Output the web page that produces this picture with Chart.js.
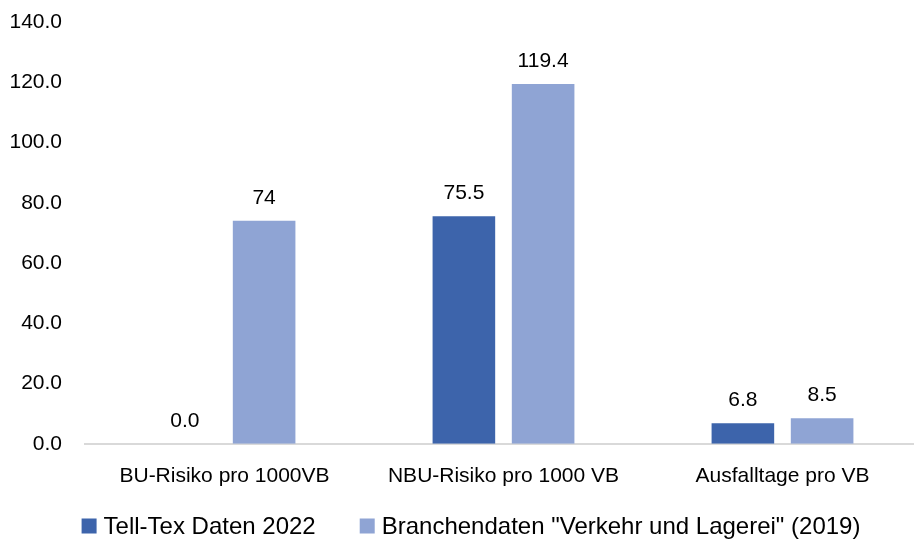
<!DOCTYPE html>
<html>
<head>
<meta charset="utf-8">
<script src="https://cdn.jsdelivr.net/npm/chart.js@4/dist/chart.umd.min.js"></script>
<style>
  html, body { margin: 0; padding: 0; background: #fff; overflow: hidden; }
  #clip { width: 914px; height: 539px; position: relative; overflow: hidden; }
  #wrap { width: 922px; height: 539px; position: relative; }
</style>
</head>
<body>
<div id="clip"><div id="wrap"><canvas id="c"></canvas></div></div>
<script>
const categories = ["BU-Risiko pro 1000VB", "NBU-Risiko pro 1000 VB", "Ausfalltage pro VB"];
const seriesNames = ["Tell-Tex Daten 2022", "Branchendaten \"Verkehr und Lagerei\" (2019)"];
const tellTexValues = [0.0, 75.5, 6.8];
const brancheValues = [74, 119.4, 8.5];
const tellTexLabels = ["0.0", "75.5", "6.8"];
const brancheLabels = ["74", "119.4", "8.5"];
const yTicks = [0, 20, 40, 60, 80, 100, 120, 140];

const FONT = "'Liberation Sans', Arial, sans-serif";
const COLORS = ['rgb(61,100,171)', 'rgb(143,164,212)'];

const valueLabelPlugin = {
  id: 'valueLabels',
  afterDatasetsDraw(chart) {
    const ctx = chart.ctx;
    ctx.save();
    ctx.font = "21px " + FONT;
    ctx.fillStyle = "#000";
    ctx.textAlign = "center";
    ctx.textBaseline = "middle";
    chart.data.datasets.forEach((ds, i) => {
      const meta = chart.getDatasetMeta(i);
      meta.data.forEach((bar, j) => {
        ctx.fillText(ds.valueLabels[j], bar.x, bar.y - 23);
      });
    });
    ctx.restore();
  }
};

const bottomLegendPlugin = {
  id: 'bottomLegend',
  afterDraw(chart) {
    const ctx = chart.ctx;
    ctx.save();
    ctx.font = "24px " + FONT;
    ctx.textBaseline = "middle";
    const box = 15, gapText = 7, gapItem = 44;
    const widths = chart.data.datasets.map(ds => box + gapText + ctx.measureText(ds.label).width);
    const total = widths.reduce((a, b) => a + b, 0) + gapItem * (widths.length - 1);
    let x = (chart.width - total) / 2 + 10;
    const y = chart.height - 13;
    chart.data.datasets.forEach((ds, i) => {
      ctx.fillStyle = ds.backgroundColor;
      ctx.fillRect(x, y - box / 2, box, box);
      ctx.fillStyle = "#000";
      ctx.textAlign = "left";
      ctx.fillText(ds.label, x + box + gapText, y + 1);
      x += widths[i] + gapItem;
    });
    ctx.restore();
  }
};

new Chart(document.getElementById('c'), {
  type: 'bar',
  data: {
    labels: categories,
    datasets: [
      { label: seriesNames[0], data: tellTexValues, valueLabels: tellTexLabels,
        backgroundColor: COLORS[0], categoryPercentage: 0.568, barPercentage: 0.79 },
      { label: seriesNames[1], data: brancheValues, valueLabels: brancheLabels,
        backgroundColor: COLORS[1], categoryPercentage: 0.568, barPercentage: 0.79 }
    ]
  },
  options: {
    responsive: true,
    maintainAspectRatio: false,
    animation: false,
    devicePixelRatio: 1,
    layout: { padding: { top: 22, right: 0, left: 0, bottom: 30 } },
    plugins: {
      legend: { display: false },
      tooltip: { enabled: false }
    },
    scales: {
      x: {
        grid: { display: false, drawTicks: false },
        border: { display: true, color: '#D9D9D9', width: 2 },
        ticks: { font: { family: FONT, size: 21 }, color: '#000', padding: 20 },
        afterFit(axis) { axis.paddingLeft = 0; axis.paddingRight = 0; }
      },
      y: {
        min: 0, max: 140,
        afterBuildTicks(axis) { axis.ticks = yTicks.map(v => ({ value: v })); },
        afterFit(axis) { axis.width = 85; axis.paddingTop = 0; axis.paddingBottom = 0; },
        grid: { display: false, drawTicks: false },
        border: { display: false },
        ticks: {
          font: { family: FONT, size: 21 }, color: '#000', padding: 23,
          callback: v => Number(v).toFixed(1)
        }
      }
    }
  },
  plugins: [valueLabelPlugin, bottomLegendPlugin]
});
</script>
</body>
</html>
